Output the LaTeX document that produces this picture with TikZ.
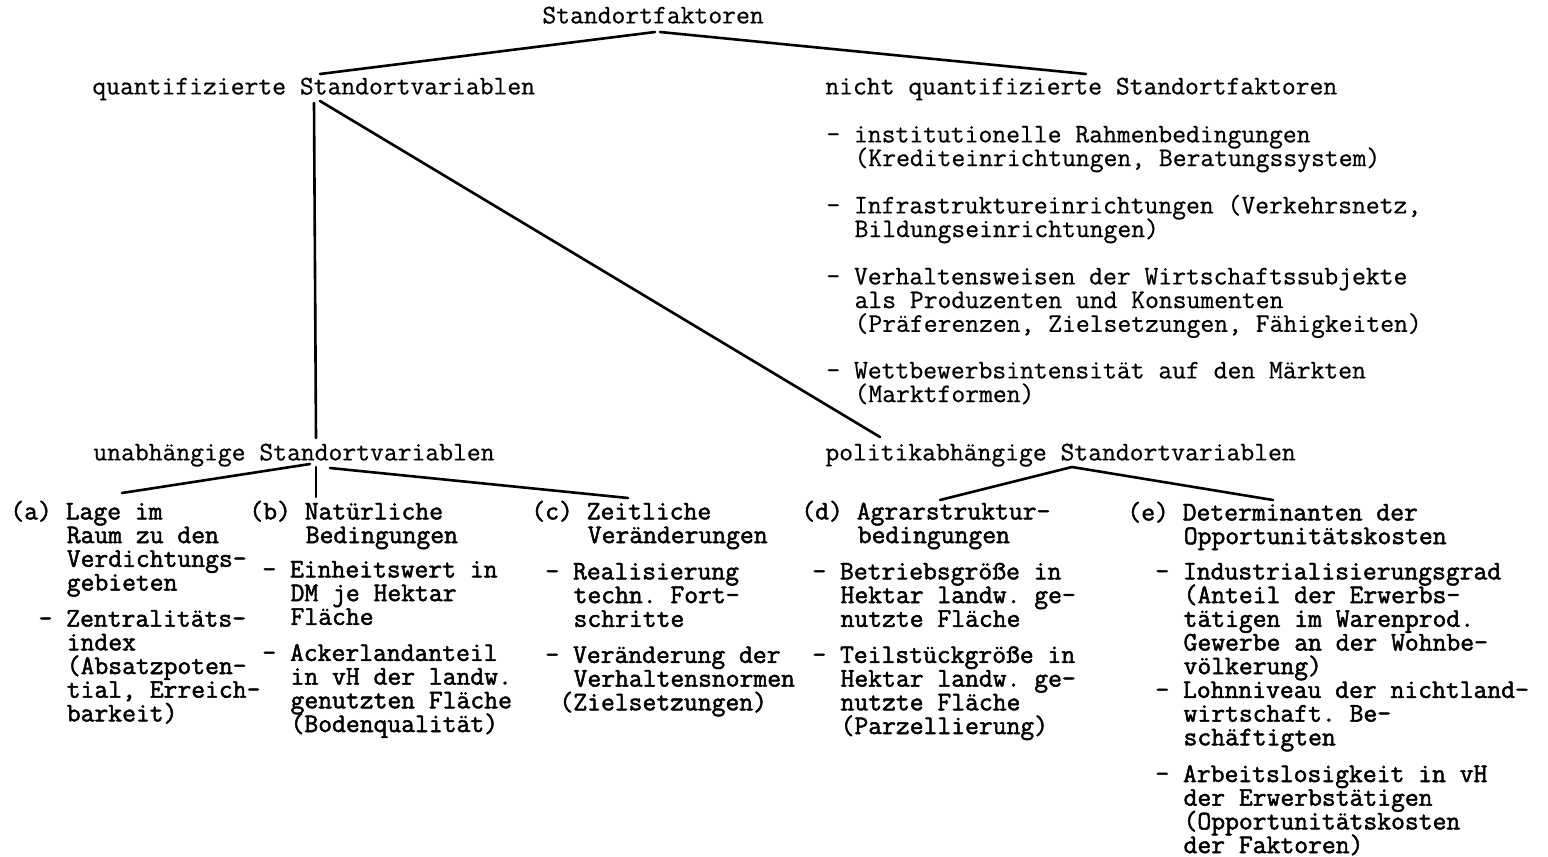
\documentclass[tikz,border=0pt]{standalone}
\usepackage{fontspec}
\newfontfamily\tw{Latin Modern Mono}[FakeBold=0.6]
\newfontfamily\twb{Latin Modern Mono}[FakeBold=1.8]
\frenchspacing
\newcommand\tight{\lineskiplimit=-30pt\relax\lineskip=0pt\relax}
\tikzset{
  txt/.style={anchor=north west, inner sep=0pt, align=left, font=\tw\fontsize{13.43}{11.85}\selectfont\tight},
  txtb/.style={txt, font=\twb\fontsize{13.43}{11.85}\selectfont\tight},
  con/.style={line width=1.3pt, line cap=round},
}
\newcommand\st{\rule{0pt}{11pt}}
\newcommand\one{\hspace*{7.05pt}}
\newcommand\two{\hspace*{14.1pt}}
\newcommand\four{\hspace*{28.2pt}}
\begin{document}
\begin{tikzpicture}[x=0.5pt,y=-0.5pt]
\useasboundingbox (0,0) rectangle (1548,857);
% top levels
\node[txt] (sf) at (542,1) {\st Standortfaktoren};
\node[txt] (qsv) at (92,72) {\st quantifizierte Standortvariablen};
\node[txt] (nqs) at (825,72) {\st nicht quantifizierte Standortfaktoren};
\node[txt] (n1) at (826,120) {\st - institutionelle Rahmenbedingungen\\\two(Krediteinrichtungen, Beratungssystem)};
\node[txt] (n2) at (826,191) {\st - Infrastruktureinrichtungen (Verkehrsnetz,\\\two Bildungseinrichtungen)};
\node[txt] (n3) at (826,262) {\st - Verhaltensweisen der Wirtschaftssubjekte\\\two als Produzenten und Konsumenten\\\two(Präferenzen, Zielsetzungen, Fähigkeiten)};
\node[txt] (n4) at (826,356) {\st - Wettbewerbsintensität auf den Märkten\\\two(Marktformen)};
\node[txt] (usv) at (93,438) {\st unabhängige Standortvariablen};
\node[txt] (psv) at (825,438) {\st politikabhängige Standortvariablen};
% (a)
\node[txtb] (a) at (10,497) {\st (a) Lage im\\\four Raum zu den\\\four Verdichtungs-\\\four gebieten\\[6.2pt]\two - Zentralitäts-\\\four index\\\four(Absatzpoten-\\\four tial, Erreich-\\\four barkeit)};
% (b)
\node[txtb] (b) at (249,497) {\st (b) Natürliche\\\four Bedingungen};
\node[txtb] (bi) at (262,555) {\st - Einheitswert in\\\two DM je Hektar\\\two Fläche\\[6.2pt]- Ackerlandanteil\\\two in vH der landw.\\\two genutzten Fläche\\\two(Bodenqualität)};
% (c)
\node[txtb] (c) at (531,497) {\st (c) Zeitliche\\\four Veränderungen};
\node[txtb] (ci) at (545,557) {\st - Realisierung\\\two techn. Fort-\\\two schritte\\[6.2pt]- Veränderung der\\\two Verhaltensnormen\\\one(Zielsetzungen)};
% (d)
\node[txtb] (d) at (801,497) {\st (d) Agrarstruktur-\\\four bedingungen};
\node[txtb] (di) at (812,557) {\st - Betriebsgröße in\\\two Hektar landw. ge-\\\two nutzte Fläche\\[6.2pt]- Teilstückgröße in\\\two Hektar landw. ge-\\\two nutzte Fläche\\\two(Parzellierung)};
% (e)
\node[txtb] (e) at (1127,498) {\st (e) Determinanten der\\\four Opportunitätskosten};
\node[txtb] (ei) at (1155,557) {\st - Industrialisierungsgrad\\\two(Anteil der Erwerbs-\\\two tätigen im Warenprod.\\\two Gewerbe an der Wohnbe-\\\two völkerung)\\- Lohnniveau der nichtland-\\\two wirtschaft. Be-\\\two schäftigten\\[6.5pt]- Arbeitslosigkeit in vH\\\two der Erwerbstätigen\\\two(Opportunitätskosten\\\two der Faktoren)};
% connector end points
\coordinate (sfL) at (655,32);
\coordinate (sfR) at (660,32);
\coordinate (qsvT) at (320,74);
\coordinate (nqsT) at (1086,74);
\coordinate (qsvV) at (314,103);
\coordinate (qsvD) at (320,101);
\coordinate (usvT) at (316,438);
\coordinate (psvT) at (880,437);
\coordinate (usvL) at (310,464);
\coordinate (usvM) at (316,467);
\coordinate (usvR) at (330,468);
\coordinate (aT) at (122,493);
\coordinate (bT) at (316,497);
\coordinate (cT) at (628,498);
\coordinate (psvA) at (1072,467);
\coordinate (dT) at (940,500);
\coordinate (eT) at (1273,500);
% connectors
\draw[con] (sfL) -- (qsvT);
\draw[con] (sfR) -- (nqsT);
\draw[con] (qsvV) -- (usvT);
\draw[con] (qsvD) -- (psvT);
\draw[con] (usvL) -- (aT);
\draw[con] (usvM) -- (bT);
\draw[con] (usvR) -- (cT);
\draw[con] (psvA) -- (dT);
\draw[con] (psvA) -- (eT);
\end{tikzpicture}
\end{document}
